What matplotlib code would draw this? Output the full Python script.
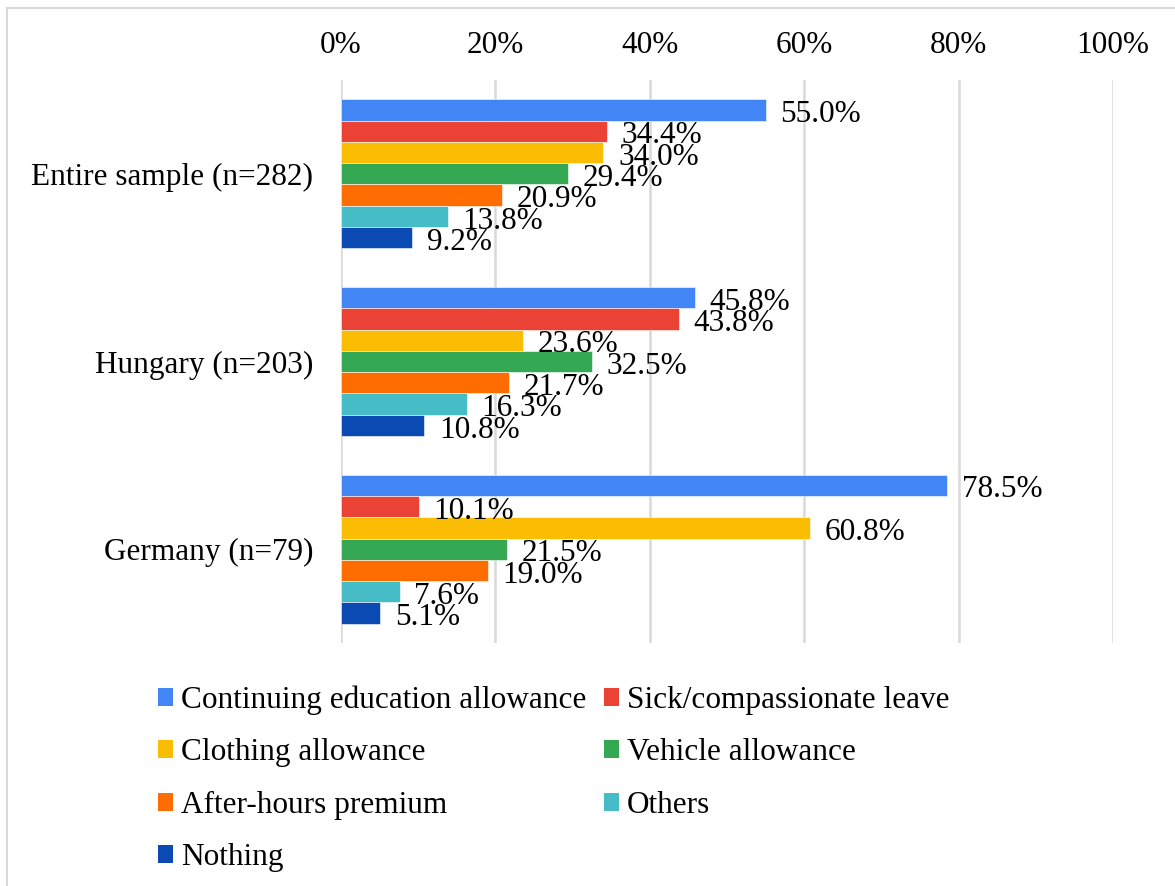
import numpy as np
import matplotlib.pyplot as plt
from matplotlib.patches import Rectangle, Patch
from matplotlib.ticker import PercentFormatter

plt.rcParams['font.family'] = ['Liberation Serif', 'DejaVu Serif']

groups = ['Entire sample (n=282)', 'Hungary (n=203)', 'Germany (n=79)']
series = ['Continuing education allowance', 'Sick/compassionate leave',
          'Clothing allowance', 'Vehicle allowance', 'After-hours premium',
          'Others', 'Nothing']
values = [
    [55.0, 45.8, 78.5],
    [34.4, 43.8, 10.1],
    [34.0, 23.6, 60.8],
    [29.4, 32.5, 21.5],
    [20.9, 21.7, 19.0],
    [13.8, 16.3, 7.6],
    [9.2, 10.8, 5.1],
]
colors = ['#4285F4', '#EA4335', '#FBBC04', '#34A853', '#FF6D01', '#46BDC6', '#0B4AB2']

FS = 22.5

fig = plt.figure(figsize=(11.75, 8.86), dpi=100)
ax = fig.add_axes([341 / 1175, 1 - 643 / 886, 772 / 1175, 563 / 886])

n = len(series)
bh = 0.795 / n
y = np.arange(len(groups))
for i, (name, vals, c) in enumerate(zip(series, values, colors)):
    pos = y - 0.795 / 2 + bh * (i + 0.5)
    ax.barh(pos, vals, height=bh, color=c, edgecolor='white', linewidth=0.4,
            label=name, zorder=3)
    for p, v in zip(pos, vals):
        ax.text(v + 1.9, p + 0.025, f'{v:.1f}%', va='center', ha='left',
                fontsize=FS, zorder=4)

ax.set_xlim(0, 100)
ax.set_ylim(len(groups) - 0.5, -0.5)
ax.set_yticks(y)
ax.set_yticklabels(groups)
ax.set_xticks(np.arange(0, 101, 20))
ax.xaxis.set_major_formatter(PercentFormatter(decimals=0))
ax.xaxis.tick_top()
ax.tick_params(axis='both', length=0, labelsize=FS)
ax.tick_params(axis='x', pad=14.5)
ax.tick_params(axis='y', pad=20)
ax.grid(axis='x', color='#D9D9D9', linewidth=1.8, zorder=0)
for s in ax.spines.values():
    s.set_visible(False)

# legend filled row by row like a two-column layout
order = [0, 2, 4, 6, 1, 3, 5]
handles = [Patch(facecolor=colors[k]) for k in order]
labels = [series[k] for k in order]
fig.legend(handles, labels, ncol=2, loc='upper left',
           bbox_to_anchor=(145 / 1175, 1 - 673 / 886), frameon=False,
           fontsize=FS, handlelength=0.5, handleheight=0.5, handletextpad=0.25,
           columnspacing=0.55, labelspacing=0.75, borderaxespad=0)

fig.patches.append(Rectangle((7 / 1175, -0.05), 1.2, 1 - 8 / 886 + 0.05,
                             transform=fig.transFigure, fill=False,
                             edgecolor='#D9D9D9', linewidth=1.5))

fig.savefig('out.png', dpi=100)
